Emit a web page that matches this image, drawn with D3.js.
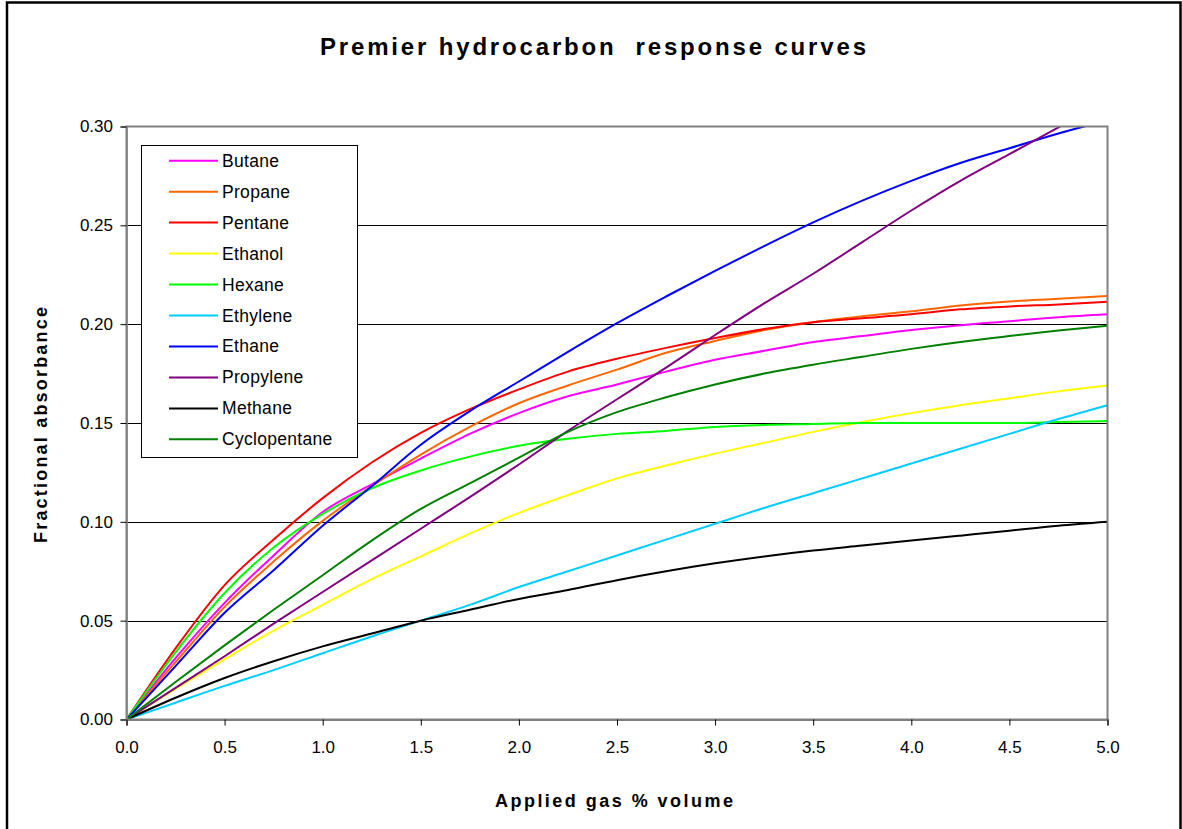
<!DOCTYPE html>
<html>
<head>
<meta charset="utf-8">
<script src="https://cdn.jsdelivr.net/npm/d3@7"></script>
<style>
  html, body { margin: 0; padding: 0; background: #fff; }
  svg { display: block; font-family: "Liberation Sans", Arial, sans-serif; }
</style>
</head>
<body>
<svg id="chart" width="1182" height="829"></svg>
<script>
// ---- data ----
const xValues = [0, 0.25, 0.5, 0.75, 1.0, 1.25, 1.5, 1.75, 2.0, 2.25, 2.5, 2.75, 3.0, 3.25, 3.5, 3.75, 4.0, 4.25, 4.5, 4.75, 5.0];

const butane       = [0, 0.031, 0.059, 0.083, 0.105, 0.119, 0.132, 0.1445, 0.155, 0.1635, 0.1695, 0.176, 0.182, 0.1865, 0.191, 0.194, 0.197, 0.1995, 0.2015, 0.2035, 0.205];
const propane      = [0, 0.029, 0.057, 0.080, 0.1005, 0.118, 0.134, 0.148, 0.160, 0.169, 0.177, 0.1855, 0.1915, 0.197, 0.201, 0.204, 0.2065, 0.2095, 0.2115, 0.2128, 0.2142];
const pentane      = [0, 0.036, 0.068, 0.091, 0.112, 0.130, 0.145, 0.157, 0.167, 0.176, 0.1825, 0.188, 0.193, 0.1975, 0.201, 0.203, 0.205, 0.2075, 0.209, 0.210, 0.2113];
const ethanol      = [0, 0.0155, 0.0305, 0.045, 0.058, 0.071, 0.0825, 0.094, 0.1045, 0.1135, 0.122, 0.1285, 0.1345, 0.140, 0.1455, 0.1505, 0.155, 0.159, 0.1625, 0.166, 0.169];
const hexane       = [0, 0.034, 0.064, 0.087, 0.104, 0.117, 0.126, 0.133, 0.1385, 0.142, 0.1445, 0.146, 0.148, 0.149, 0.1495, 0.150, 0.150, 0.150, 0.150, 0.1505, 0.151];
const ethylene     = [0, 0.0085, 0.017, 0.025, 0.0335, 0.042, 0.050, 0.058, 0.067, 0.075, 0.083, 0.091, 0.099, 0.107, 0.1145, 0.122, 0.1295, 0.137, 0.1445, 0.152, 0.159];
const ethane       = [0, 0.027, 0.054, 0.0755, 0.098, 0.118, 0.139, 0.156, 0.171, 0.186, 0.2005, 0.214, 0.227, 0.2395, 0.2515, 0.2625, 0.2725, 0.2815, 0.289, 0.2965, 0.303];
const propylene    = [0, 0.016, 0.032, 0.0485, 0.0645, 0.0805, 0.0965, 0.1125, 0.129, 0.146, 0.162, 0.178, 0.1945, 0.2105, 0.2255, 0.2415, 0.2575, 0.2725, 0.286, 0.2995, 0.313];
const methane      = [0, 0.011, 0.021, 0.0295, 0.037, 0.0435, 0.050, 0.0555, 0.061, 0.0655, 0.0705, 0.075, 0.079, 0.0825, 0.0855, 0.088, 0.0905, 0.093, 0.0955, 0.098, 0.100];
const cyclopentane = [0, 0.019, 0.0375, 0.0555, 0.073, 0.0905, 0.1065, 0.1195, 0.1325, 0.1455, 0.1555, 0.163, 0.1695, 0.175, 0.1795, 0.1835, 0.1875, 0.191, 0.194, 0.1968, 0.1992];

const seriesNames  = ["Butane", "Propane", "Pentane", "Ethanol", "Hexane", "Ethylene", "Ethane", "Propylene", "Methane", "Cyclopentane"];
const seriesValues = [butane, propane, pentane, ethanol, hexane, ethylene, ethane, propylene, methane, cyclopentane];
const seriesColors = ["#FF00FF", "#FF6600", "#FF0000", "#FFFF00", "#00FF00", "#00CCFF", "#0000FF", "#800080", "#000000", "#008000"];

const xTicks = [0, 0.5, 1.0, 1.5, 2.0, 2.5, 3.0, 3.5, 4.0, 4.5, 5.0];
const yTicks = [0, 0.05, 0.10, 0.15, 0.20, 0.25, 0.30];

const titleText = "Premier hydrocarbon  response curves";
const xTitle = "Applied gas % volume";
const yTitle = "Fractional absorbance";

// ---- layout ----
const svg = d3.select("#chart");
const plot = { left: 126.5, right: 1107.5, top: 126.5, bottom: 719.5 };

const x = d3.scaleLinear().domain([0, 5]).range([plot.left, plot.right]);
const y = d3.scaleLinear().domain([0, 0.30]).range([plot.bottom, plot.top]);

// outer frame
svg.append("rect")
  .attr("x", 7).attr("y", 2.5).attr("width", 1173.5).attr("height", 840)
  .attr("fill", "#fff").attr("stroke", "#000").attr("stroke-width", 2.5);

// title
svg.append("text")
  .attr("x", 593).attr("y", 55)
  .attr("text-anchor", "middle")
  .attr("font-size", 24).attr("font-weight", "bold")
  .attr("textLength", 546).attr("lengthAdjust", "spacing")
  .attr("xml:space", "preserve")
  .style("white-space", "pre")
  .text(titleText);

// gridlines
svg.append("g")
  .selectAll("line")
  .data(yTicks.filter(d => d > 0 && d < 0.30))
  .join("line")
  .attr("x1", plot.left).attr("x2", plot.right)
  .attr("y1", d => Math.round(y(d)) + 0.5).attr("y2", d => Math.round(y(d)) + 0.5)
  .attr("stroke", "#000").attr("stroke-width", 1);

// clip
svg.append("clipPath").attr("id", "clip")
  .append("rect")
  .attr("x", plot.left).attr("y", plot.top)
  .attr("width", plot.right - plot.left).attr("height", plot.bottom - plot.top);

// series
const line = d3.line()
  .x((d, i) => x(xValues[i]))
  .y(d => y(d))
  .curve(d3.curveMonotoneX);

const gSeries = svg.append("g").attr("clip-path", "url(#clip)");
seriesValues.forEach((vals, k) => {
  gSeries.append("path")
    .datum(vals)
    .attr("d", line)
    .attr("fill", "none")
    .attr("stroke", seriesColors[k])
    .attr("stroke-width", 2);
});

// plot area border (gray)
svg.append("rect")
  .attr("x", plot.left).attr("y", plot.top)
  .attr("width", plot.right - plot.left).attr("height", plot.bottom - plot.top)
  .attr("fill", "none").attr("stroke", "#808080").attr("stroke-width", 2);

// axes
const yAxis = d3.axisLeft(y).tickValues(yTicks).tickFormat(d3.format(".2f")).tickSize(6).tickPadding(7.5);
const gy = svg.append("g").attr("transform", `translate(${plot.left},0)`).call(yAxis);
gy.select(".domain").attr("stroke", "#808080").attr("stroke-width", 1.5);
gy.selectAll(".tick line").attr("stroke", "#000");
gy.selectAll("text").attr("font-size", 17).attr("font-family", "Liberation Sans, Arial, sans-serif").attr("fill", "#000");

const xAxis = d3.axisBottom(x).tickValues(xTicks).tickFormat(d3.format(".1f")).tickSize(6).tickPadding(15);
const gx = svg.append("g").attr("transform", `translate(0,${plot.bottom})`).call(xAxis);
gx.select(".domain").attr("stroke", "#808080").attr("stroke-width", 2);
gx.selectAll(".tick line").attr("stroke", "#000");
gx.selectAll("text").attr("font-size", 17).attr("font-family", "Liberation Sans, Arial, sans-serif").attr("fill", "#000");

// axis titles
svg.append("text")
  .attr("x", 614).attr("y", 807)
  .attr("text-anchor", "middle")
  .attr("font-size", 18).attr("font-weight", "bold")
  .attr("textLength", 238).attr("lengthAdjust", "spacing")
  .text(xTitle);

svg.append("text")
  .attr("transform", "translate(47,425) rotate(-90)")
  .attr("text-anchor", "middle")
  .attr("font-size", 18).attr("font-weight", "bold")
  .attr("textLength", 236).attr("lengthAdjust", "spacing")
  .text(yTitle);

// legend
const lg = svg.append("g");
lg.append("rect")
  .attr("x", 141.5).attr("y", 145.5).attr("width", 216).attr("height", 312)
  .attr("fill", "#fff").attr("stroke", "#000").attr("stroke-width", 1);
seriesNames.forEach((name, i) => {
  const yy = 160.7 + i * 30.96;
  lg.append("line")
    .attr("x1", 169).attr("x2", 218).attr("y1", yy).attr("y2", yy)
    .attr("stroke", seriesColors[i]).attr("stroke-width", 2);
  lg.append("text")
    .attr("x", 222).attr("y", yy + 6)
    .attr("font-size", 17.5)
    .attr("letter-spacing", 0.3)
    .text(name);
});
</script>
</body>
</html>
